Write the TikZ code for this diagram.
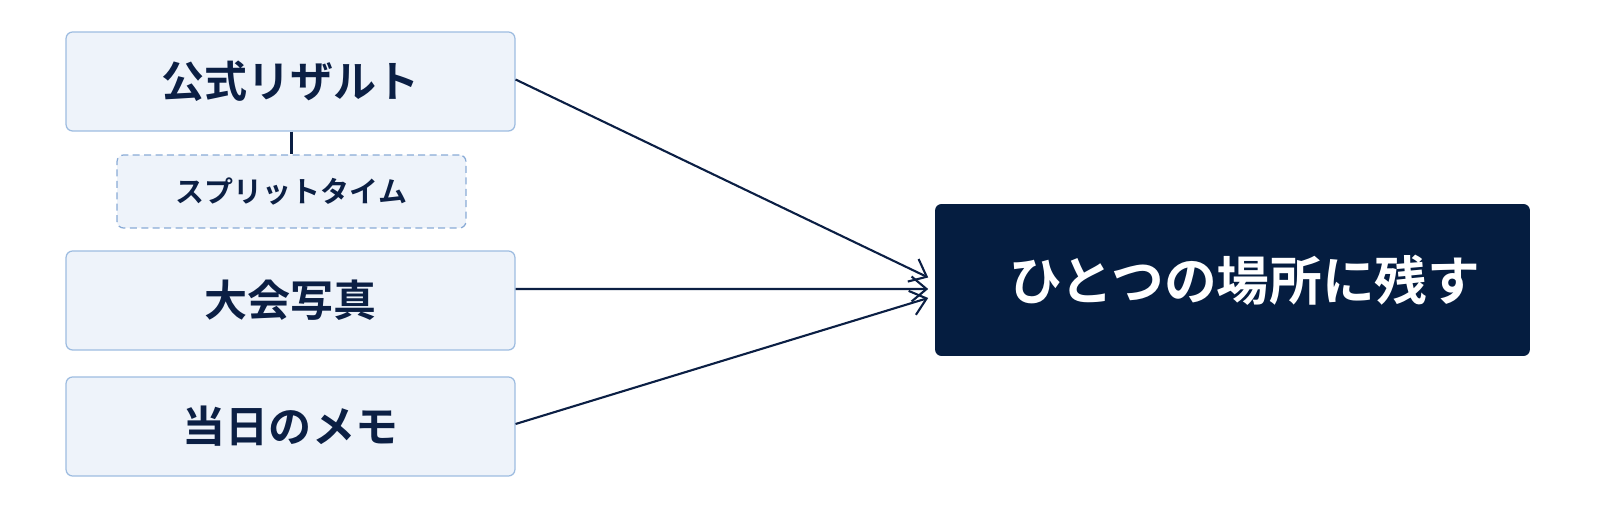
\documentclass[tikz,border=0pt]{standalone}
\usepackage{fontspec}
\newfontfamily\cjk{Noto Sans CJK JP}[BoldFont={Noto Sans CJK JP Bold}]
\usetikzlibrary{arrows.meta}
\definecolor{navy}{HTML}{0B1F44}
\definecolor{deepnavy}{HTML}{051D40}
\definecolor{paleblue}{HTML}{EEF3FA}
\definecolor{edgeblue}{HTML}{9DBCE0}
\definecolor{dashblue}{HTML}{88AAD6}

\begin{document}
\begin{tikzpicture}[x=0.02cm,y=-0.02cm,
    source/.style={draw=edgeblue,fill=paleblue,rounded corners=0.13cm,
      line width=0.7pt,minimum width=8.98cm,minimum height=1.98cm,
      text=navy,font=\cjk\bfseries\fontsize{24.5}{28}\selectfont},
    subsource/.style={source,draw=dashblue,dash pattern=on 4pt off 2.5pt,
      minimum width=6.98cm,minimum height=1.46cm,
      font=\cjk\bfseries\fontsize{16.5}{20}\selectfont},
    goal/.style={fill=deepnavy,rounded corners=0.13cm,minimum width=11.9cm,
      minimum height=3.04cm,text=white,font=\cjk\bfseries\fontsize{30}{34}\selectfont},
    flow/.style={draw=navy,line width=1.2pt,
      -{Straight Barb[length=0.3cm,width=0.5cm]}}]

    \useasboundingbox (0,0) rectangle (1600,509);

    % sources on the left
    \node[source] (result) at (290.5,81.5) {公式リザルト};
    \node[subsource] (split) at (291.5,191.5) {スプリットタイム};
    \node[source] (photo) at (290.5,300.5) {大会写真};
    \node[source] (memo) at (290.5,426.5) {当日のメモ};

    % target
    \node[goal] (keep) at (1232.5,280) {\hspace*{0.5cm}ひとつの場所に残す};

    \draw[navy,line width=1.2pt] (result.south -| split.north) -- (split.north);
    \draw[flow] ([yshift=0.04cm]result.east) -- ([xshift=-0.13cm,yshift=0.05cm]keep.west);
    \draw[flow] ([yshift=0.23cm]photo.east) -- ([xshift=-0.13cm,yshift=-0.18cm]keep.west);
    \draw[flow] ([yshift=0.05cm]memo.east) -- ([xshift=-0.13cm,yshift=-0.36cm]keep.west);
\end{tikzpicture}
\end{document}
